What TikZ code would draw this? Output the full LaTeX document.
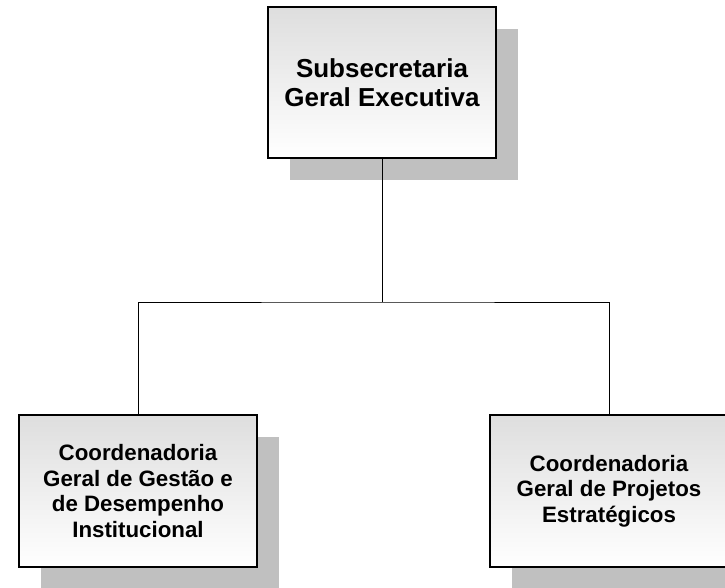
\documentclass[tikz,border=0pt]{standalone}
\usepackage{fontspec}
\setmainfont{Liberation Sans}
\usetikzlibrary{shadows}
\definecolor{boxtop}{RGB}{222,222,222}
\definecolor{shadowgray}{RGB}{192,192,192}
\tikzset{
  orgbox/.style={draw=black, line width=1.6pt, top color=boxtop, bottom color=white,
    align=center, inner sep=0pt,
    drop shadow={shadow xshift=22pt, shadow yshift=-22pt, fill=shadowgray, opacity=1}},
  topbox/.style={orgbox, minimum width=228pt, minimum height=151pt,
    font=\fontsize{26}{29}\selectfont\bfseries},
  subbox/.style={orgbox, minimum width=238pt, minimum height=152pt,
    font=\fontsize{22.3}{25.7}\selectfont\bfseries},
  link/.style={draw=black, line width=1pt}
}
\begin{document}
\begin{tikzpicture}[x=1pt,y=-1pt]
\useasboundingbox (0,0) rectangle (725,587);
\clip (0,0) rectangle (725,587);
\node[topbox] (top) at (382,82.5) {Subsecretaria\\Geral Executiva};
\node[subbox] (bl) at (138,491) {Coordenadoria\\Geral de Gestão e\\de Desempenho\\Institucional};
\node[subbox] (br) at (609,491) {Coordenadoria\\Geral de Projetos\\Estratégicos};
\coordinate (j) at (382,302);
\draw[link] (top.south) -- (j);
\draw[link] (bl.north) |- (j) -| (br.north);
\end{tikzpicture}
\end{document}
